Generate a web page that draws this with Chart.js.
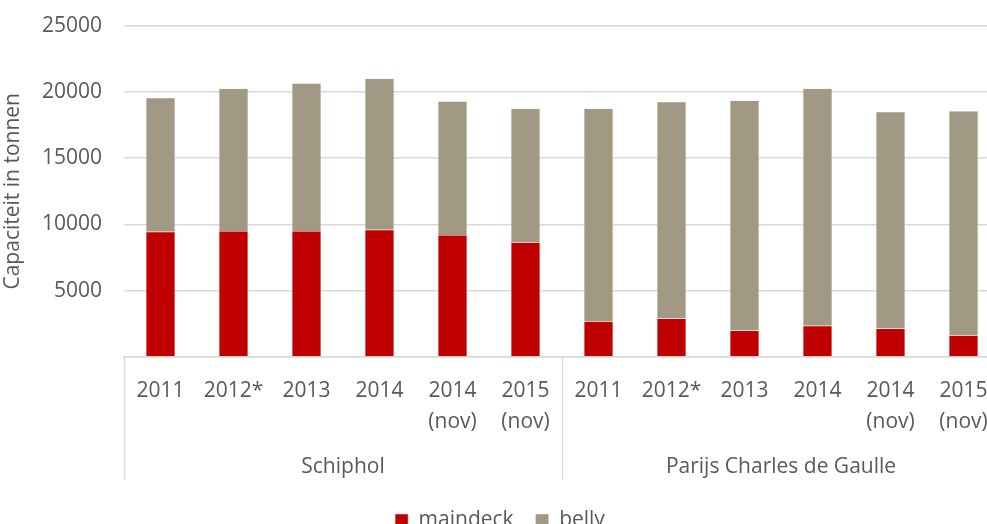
<!DOCTYPE html>
<html>
<head>
<meta charset="utf-8">
<script src="https://cdn.jsdelivr.net/npm/chart.js@4/dist/chart.umd.min.js"></script>
<style>
  html, body { margin: 0; padding: 0; background: #fff; overflow: hidden; width: 987px; height: 524px; }
  #wrap { width: 1000px; height: 550px; position: relative; top: -9px; }
</style>
</head>
<body>
<div id="wrap"><canvas id="c"></canvas></div>
<script>
const groups = ['Schiphol', 'Parijs Charles de Gaulle'];
const periods = [['2011'], ['2012*'], ['2013'], ['2014'], ['2014', '(nov)'], ['2015', '(nov)']];
const categories = [...periods, ...periods];
const maindeck = [9450, 9500, 9500, 9600, 9200, 8650, 2700, 2900, 2000, 2350, 2150, 1650];
const belly = [10100, 10750, 11150, 11400, 10100, 10100, 16050, 16350, 17350, 17900, 16350, 16900];
const yTicks = [0, 5000, 10000, 15000, 20000, 25000];

const TXT = '#595959';
const GRID = '#d9d9d9';
const FONT = { family: "'Open Sans', 'DejaVu Sans', sans-serif", size: 21 };

const separators = {
  id: 'separators',
  afterDraw(chart) {
    const x = chart.scales.x;
    const ctx = chart.ctx;
    const step = x.getPixelForValue(1) - x.getPixelForValue(0);
    const per = periods.length;
    ctx.save();
    ctx.strokeStyle = GRID;
    ctx.lineWidth = 1.5;
    for (let g = 0; g <= groups.length; g++) {
      const px = Math.round(x.getPixelForValue(g * per) - step / 2) + 0.5;
      ctx.beginPath();
      ctx.moveTo(px, chart.chartArea.bottom);
      ctx.lineTo(px, chart.chartArea.bottom + 123);
      ctx.stroke();
    }
    ctx.restore();
  }
};

new Chart(document.getElementById('c'), {
  type: 'bar',
  data: {
    labels: categories,
    datasets: [
      { label: 'maindeck', data: maindeck, backgroundColor: '#C00000', borderColor: '#f2dcdc', borderWidth: 0.5 },
      { label: 'belly', data: belly, backgroundColor: '#A29985', borderColor: '#e8e4dc', borderWidth: 0.5 }
    ]
  },
  options: {
    responsive: true,
    maintainAspectRatio: false,
    animation: false,
    layout: { padding: { top: 6, right: 0, left: 0, bottom: 0 } },
    datasets: { bar: { categoryPercentage: 0.4, barPercentage: 1 } },
    plugins: {
      legend: {
        position: 'bottom',
        labels: { color: TXT, font: FONT, boxWidth: 13, boxHeight: 13, padding: 22 }
      },
      tooltip: { enabled: false }
    },
    scales: {
      x: {
        stacked: true,
        grid: { display: false },
        border: { color: GRID, width: 1.5 },
        ticks: { color: TXT, font: { ...FONT, lineHeight: 1.45 }, padding: 11, maxRotation: 0, autoSkip: false },
        afterFit(s) { s.height = 76; }
      },
      x2: {
        type: 'category',
        position: 'bottom',
        labels: groups,
        offset: true,
        grid: { display: false },
        border: { display: false },
        ticks: { color: TXT, font: { ...FONT, lineHeight: 1.45 }, padding: 11, maxRotation: 0 },
        afterFit(s) { s.height = 55; }
      },
      y: {
        stacked: true,
        min: 0,
        max: 25000,
        afterBuildTicks(s) { s.ticks = yTicks.map(v => ({ value: v })); },
        grid: { color: GRID, lineWidth: 1.5, drawTicks: false },
        border: { display: false },
        ticks: { color: TXT, font: FONT, padding: 22, callback: v => (v === 0 ? '' : String(v)) },
        title: { display: true, text: 'Capaciteit in tonnen', color: TXT, font: FONT, padding: 0 },
        afterFit(s) { s.width = 124; }
      }
    }
  },
  plugins: [separators]
});
</script>
</body>
</html>
